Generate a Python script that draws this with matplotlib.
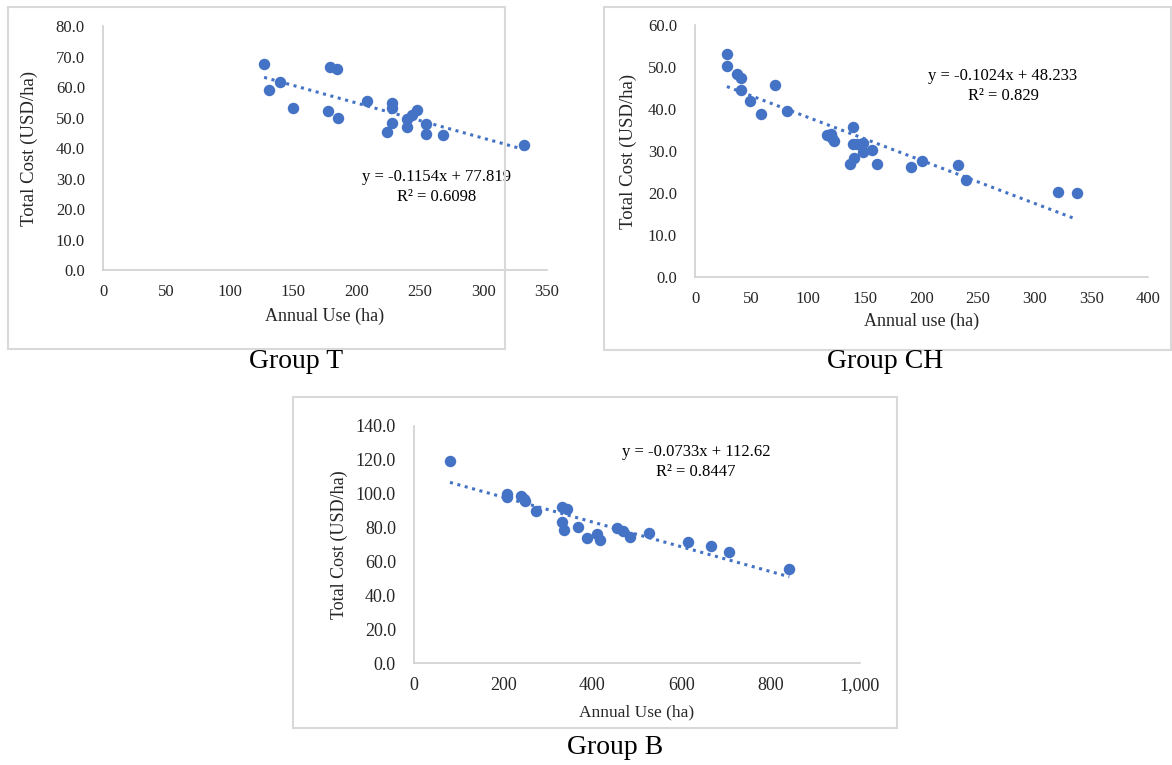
import numpy as np
import matplotlib
matplotlib.use('Agg')
import matplotlib.pyplot as plt
from matplotlib.patches import Rectangle
from matplotlib.ticker import FuncFormatter

plt.rcParams['font.family'] = ['Liberation Serif', 'DejaVu Serif']

# Group T
t_use = [127, 131, 139.5, 149.5, 179, 184.7, 177.3, 185.4, 207.8, 227.5, 227.5, 227.5,
         223.5, 239.3, 239.3, 243.3, 247.7, 254.3, 254.3, 267.7, 331.8]
t_cost = [67.5, 59.1, 61.7, 53.1, 66.4, 65.8, 52.2, 50.0, 55.3, 54.6, 53.1, 48.1,
          45.4, 49.5, 47.0, 50.9, 52.6, 47.9, 44.6, 44.4, 40.9]
t_fit = (-0.1154, 77.819)
t_eq = ['y = -0.1154x + 77.819', 'R² = 0.6098']

# Group CH
ch_use = [28.2, 28.2, 36.7, 40.5, 40.5, 48.5, 58.1, 70.8, 80.8, 116.9, 119.8, 121.3,
          122.8, 139.8, 139.8, 143.3, 148.6, 148.3, 156.6, 140.4, 136.8, 160.4,
          190.3, 200.6, 232.0, 239.6, 320.4, 337.2]
ch_cost = [53.2, 50.2, 48.4, 47.3, 44.6, 41.8, 38.7, 45.6, 39.5, 33.9, 34.1, 33.2,
           32.5, 35.7, 31.7, 31.7, 31.9, 29.8, 30.2, 28.4, 26.9, 27.0,
           26.3, 27.6, 26.7, 23.2, 20.2, 20.0]
ch_fit = (-0.1024, 48.233)
ch_eq = ['y = -0.1024x + 48.233', 'R² = 0.829']

# Group B
b_use = [80.7, 209.3, 209.3, 239.2, 246.6, 248.9, 272.8, 332.6, 343.8, 331.1, 337.1,
         368.5, 388.6, 411.1, 417.0, 454.4, 469.3, 484.3, 527.6, 615.1, 665.2, 706.3, 841.6]
b_cost = [119.4, 99.8, 98.2, 98.8, 96.9, 95.5, 90.0, 91.9, 90.8, 83.1, 78.6,
          80.2, 73.9, 76.3, 72.7, 79.6, 78.2, 74.3, 76.7, 71.4, 69.0, 65.5, 55.3]
b_fit = (-0.0733, 112.62)
b_eq = ['y = -0.0733x + 112.62', 'R² = 0.8447']

W, H = 1172, 765
BLUE = '#4472C4'
GRID = '#D0D0D0'
TXT = '#262626'

fig = plt.figure(figsize=(W / 100, H / 100), dpi=100)


def px_axes(l, t, r, b):
    return fig.add_axes([l / W, 1 - b / H, (r - l) / W, (b - t) / H])


def box(l, t, r, b):
    fig.add_artist(Rectangle((l / W, 1 - b / H), (r - l) / W, (b - t) / H,
                             transform=fig.transFigure, fill=False,
                             edgecolor='#D9D9D9', linewidth=1.5))


def panel(ax, x, y, fit, eq, xmax, xstep, ymax, ystep, xlabel, fs, lfs, eq_xy, ylab_x, xlab_y):
    ax.scatter(x, y, s=68, color=BLUE, zorder=3, linewidths=0)
    xs = np.array([min(x), max(x)])
    ax.plot(xs, fit[0] * xs + fit[1], color=BLUE, linestyle=(0, (1, 1.5)), linewidth=2.2)
    ax.set_xlim(0, xmax)
    ax.set_ylim(0, ymax)
    ax.set_xticks(np.arange(0, xmax + 1, xstep))
    ax.set_yticks(np.arange(0, ymax + 1, ystep))
    ax.yaxis.set_major_formatter(FuncFormatter(lambda v, p: f'{v:.1f}'))
    ax.xaxis.set_major_formatter(FuncFormatter(lambda v, p: f'{v:,.0f}'))
    for s in ['top', 'right']:
        ax.spines[s].set_visible(False)
    for s in ['left', 'bottom']:
        ax.spines[s].set_color(GRID)
        ax.spines[s].set_linewidth(1.2)
    ax.tick_params(length=0, labelsize=fs, colors=TXT)
    ax.tick_params(axis='x', pad=10)
    ax.tick_params(axis='y', pad=13)
    ax.set_xlabel(xlabel, fontsize=lfs, color=TXT)
    ax.set_ylabel('Total Cost (USD/ha)', fontsize=lfs + 0.5, color=TXT)
    ax.xaxis.set_label_coords(0.5, xlab_y)
    ax.yaxis.set_label_coords(ylab_x, 0.5)
    ax.text(eq_xy[0], eq_xy[1], eq[0] + '\n' + eq[1], transform=ax.transAxes,
            ha='center', va='center', fontsize=12, color='black', linespacing=1.3)
    ax.patch.set_alpha(0)


box(8, 7, 505, 349)
box(604, 7, 1171, 350)
box(293, 397, 897, 728)

ax1 = px_axes(103, 26, 547, 270)
panel(ax1, t_use, t_cost, t_fit, t_eq, 350, 50, 80, 10, 'Annual Use (ha)', 12, 13,
      ((437 - 103) / 444, (270 - 187) / 244), (38 - 103) / 444, -(308 - 270) / 244)

ax2 = px_axes(695, 25, 1148, 277)
panel(ax2, ch_use, ch_cost, ch_fit, ch_eq, 400, 50, 60, 10, 'Annual use (ha)', 12, 13,
      ((1003 - 695) / 453, (277 - 86) / 252), (637 - 695) / 453, -(313 - 277) / 252)

ax3 = px_axes(414, 426, 860, 663)
panel(ax3, b_use, b_cost, b_fit, b_eq, 1000, 200, 140, 20, 'Annual Use (ha)', 13, 12.5,
      ((696 - 414) / 446, (663 - 462) / 237), (348 - 414) / 446, -(704 - 663) / 237)

fig.text(296 / W, 1 - 361 / H, 'Group T', ha='center', va='center', fontsize=20)
fig.text(885 / W, 1 - 361 / H, 'Group CH', ha='center', va='center', fontsize=20)
fig.text(615 / W, 1 - 747 / H, 'Group B', ha='center', va='center', fontsize=20)

fig.savefig('out.png', dpi=100, facecolor='white')
